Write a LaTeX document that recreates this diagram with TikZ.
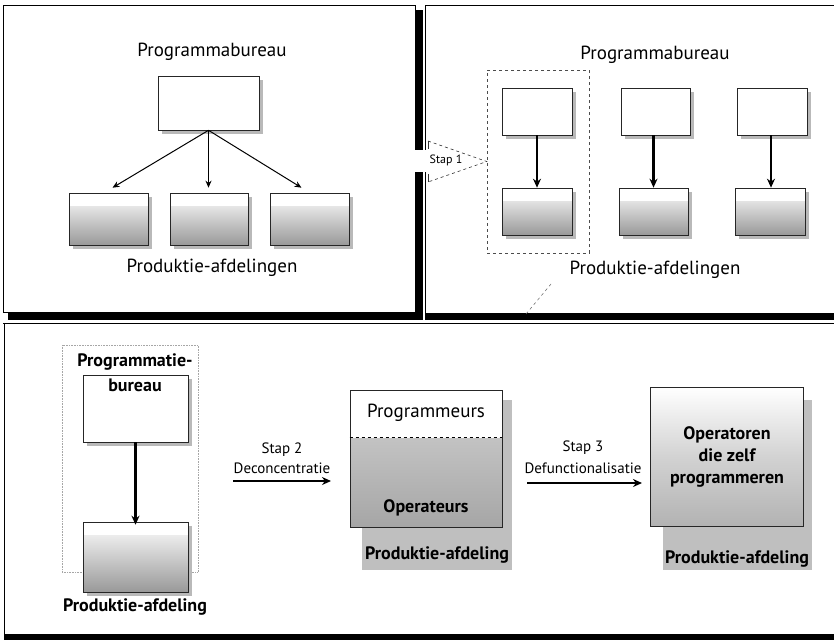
\documentclass[tikz,border=0pt]{standalone}
\usepackage{fontspec}
\setmainfont{PT Sans}
\usetikzlibrary{arrows.meta,shadows}
\begin{document}
\begin{tikzpicture}[x=1pt,y=-1pt,
  box/.style={draw=black!85, line width=0.6pt, fill=white, inner sep=0pt,
    drop shadow={shadow xshift=4pt, shadow yshift=-4pt, fill=gray!55, opacity=1}},
  gradbox/.style={box, path picture={\shade[top color=white, bottom color=gray!80]
    ([yshift=-13pt]path picture bounding box.north west) rectangle (path picture bounding box.south east);}},
  lbl/.style={font=\fontsize{19}{22}\selectfont, inner sep=0pt},
  blbl/.style={font=\bfseries\fontsize{18}{20}\selectfont, inner sep=0pt},
  slbl/.style={font=\fontsize{12}{13}\selectfont, inner sep=0pt},
  mlbl/.style={font=\fontsize{15}{16}\selectfont, inner sep=0pt},
  arr/.style={-{Stealth[length=7pt,width=6pt]}, line width=1pt},
  tarr/.style={-{Stealth[length=9pt,width=8pt]}, line width=2.4pt},
  panel/.style={draw=black, line width=0.8pt},
  bar/.style={fill=black}
]
\useasboundingbox (0,0) rectangle (834,640);
\fill[white] (0,0) rectangle (834,640);

% ---------- panel frames ----------
\draw[panel] (3,5) rectangle (415,312);
\fill[bar] (415,10) rectangle (423,150);
\fill[bar] (415,172) rectangle (423,320);
\fill[bar] (8,312) rectangle (423,320);
\draw[panel] (425,5) -- (834,5);
\draw[panel] (425,5) -- (425,313);
\fill[bar] (425,313) rectangle (834,320);
\draw[panel] (3,323) -- (834,323);
\draw[panel] (4,323) -- (4,635);
\fill[bar] (4,634) rectangle (834,640);

% ---------- top left ----------
\node[lbl] (t1) at (212,52) {Programmabureau};
\node[box, minimum width=101pt, minimum height=54pt] (pb) at (208.5,103) {};
\node[gradbox, minimum width=79pt, minimum height=52pt] (p1) at (108.5,219) {};
\node[gradbox, minimum width=78pt, minimum height=52pt] (p2) at (209,219) {};
\node[gradbox, minimum width=79pt, minimum height=52pt] (p3) at (309.5,219) {};
\draw[arr] (pb.south) -- ([xshift=4pt,yshift=5pt]p1.north);
\draw[arr] (pb.south) -- ([yshift=5pt]pb.south |- p2.north);
\draw[arr] (pb.south) -- ([xshift=-8pt,yshift=5pt]p3.north);
\node[lbl] (t2) at (212,268) {Produktie-afdelingen};

% ---------- top right ----------
\node[lbl] (t3) at (655,55) {Programmabureau};
\node[draw=black!70, dashed, line width=0.5pt, minimum width=102pt, minimum height=183pt, inner sep=0pt] (grp) at (538,161.5) {};
\coordinate (s1a) at (428,141);
\coordinate (s1b) at (428,182);
\fill[white] (414,150) rectangle (428,172);
\filldraw[fill=white, draw=black!80, dashed, line width=0.6pt] (s1a) -- (grp.west) -- (s1b);
\draw[black!80, line width=0.6pt] (s1a) -- ++(0,8);
\draw[black!80, line width=0.6pt] (s1b) -- ++(0,-8);
\node[slbl] (st1) at (446,160) {Stap 1};

\node[box, minimum width=70pt, minimum height=47pt] (a1) at (537,111.5) {};
\node[gradbox, minimum width=70pt, minimum height=47pt] (b1) at (537,211.5) {};
\node[box, minimum width=69pt, minimum height=47pt] (a2) at (655.5,111.5) {};
\node[gradbox, minimum width=69pt, minimum height=47pt] (b2) at (653.5,211.5) {};
\node[box, minimum width=70pt, minimum height=47pt] (a3) at (772,111.5) {};
\node[gradbox, minimum width=70pt, minimum height=47pt] (b3) at (770,211.5) {};
\draw[tarr] (a1.south) -- (a1.south |- b1.north);
\draw[tarr] ([xshift=-2pt]a2.south) -- ([xshift=-2pt]a2.south |- b2.north);
\draw[tarr] ([xshift=-1pt]a3.south) -- ([xshift=-1pt]a3.south |- b3.north);
\node[lbl] (t4) at (655,270) {Produktie-afdelingen};
\draw[black!60, dashed, line width=0.5pt] (551,284) -- (526,314);

% ---------- bottom left ----------
\draw[gray!70, densely dotted, line width=0.6pt] (62,345) rectangle (198,572);
\node[box, minimum width=105pt, minimum height=67pt] (c1) at (135.5,408.5) {};
\node[gradbox, minimum width=105pt, minimum height=70pt] (c2) at (135.5,557) {};
\node[blbl] (t5) at (135,362) {Programmatie-};
\node[blbl] (t6) at (135,385) {bureau};
\draw[tarr] (c1.south) -- ([yshift=-3pt]c1.south |- c2.north);
\node[blbl] (t7) at (135,607) {Produktie-afdeling};

% ---------- stap 2 ----------
\node[mlbl] (st2) at (282,450) {Stap 2};
\node[mlbl] (st2b) at (282,468) {Deconcentratie};
\coordinate (s2a) at (233,481);
\coordinate (s2b) at (331,481);
\draw[tarr] (s2a) -- (s2b);

% ---------- middle ----------
\fill[gray!50] (362,400) rectangle (512,570);
\node[blbl] (t8) at (437,555) {Produktie-afdeling};
\node[draw=black!85, line width=0.6pt, fill=white, inner sep=0pt, minimum width=152pt, minimum height=137pt,
  path picture={\shade[top color=gray!35, bottom color=gray!70]
    ([yshift=-48pt]path picture bounding box.north west) rectangle (path picture bounding box.south east);}]
  (mb) at (426,458.5) {};
\draw[black, dashed, line width=1.2pt] ([yshift=-48pt]mb.north west) -- ([yshift=-48pt]mb.north east);
\node[lbl] (t9) at (426,413) {Programmeurs};
\node[blbl] (t10) at (426,508) {Operateurs};

% ---------- stap 3 ----------
\node[mlbl] (st3) at (583,448) {Stap 3};
\node[mlbl] (st3b) at (583,468) {Defunctionalisatie};
\coordinate (s3a) at (527,483);
\coordinate (s3b) at (642,483);
\draw[tarr] (s3a) -- (s3b);

% ---------- right ----------
\fill[gray!50] (663,400) rectangle (812,570);
\node[blbl] (t11) at (737,559) {Produktie-afdeling};
\node[draw=black!85, line width=0.6pt, inner sep=0pt, minimum width=153pt, minimum height=139pt,
  top color=white, bottom color=gray!60, middle color=gray!35]
  (rb) at (726.5,456.5) {};
\node[blbl, align=center, font=\bfseries\fontsize{18}{22}\selectfont] (t12) at (727,457) {Operatoren\\die zelf\\programmeren};
\end{tikzpicture}
\end{document}
